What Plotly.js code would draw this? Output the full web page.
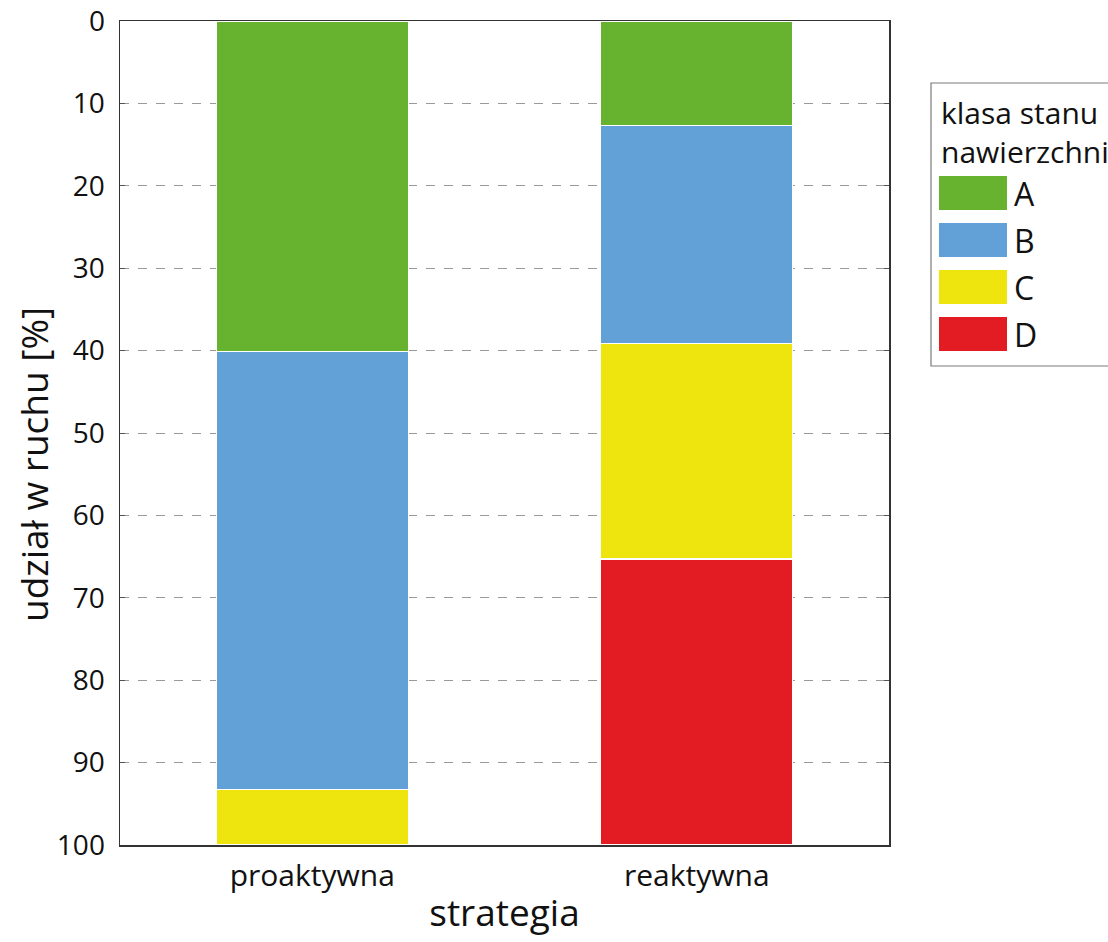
<!DOCTYPE html>
<html>
<head>
<meta charset="utf-8">
<script src="https://cdn.plot.ly/plotly-3.0.1.min.js"></script>
<style>html,body{margin:0;padding:0;background:#fff;overflow:hidden}#chart{width:1108px;height:942px}</style>
</head>
<body>
<div id="chart"></div>
<script>
const categories = ["proaktywna", "reaktywna"];
const classNames = ["A", "B", "C", "D"];
const valuesA = [40.1, 12.7];
const valuesB = [53.2, 26.4];
const valuesC = [6.7, 26.2];
const valuesD = [0, 34.7];
const colors = ["#67b22f", "#62a1d7", "#efe50e", "#e31b23"];
const seriesValues = [valuesA, valuesB, valuesC, valuesD];
const legendTitle = "klasa stanu<br>nawierzchni";
const xTitle = "strategia";
const yTitle = "udział w ruchu [%]";

const FONT = "Open Sans, Noto Sans, sans-serif";

const traces = classNames.map((name, i) => ({
  type: "bar",
  name: name,
  x: categories,
  y: seriesValues[i],
  width: 0.5,
  marker: {color: colors[i], line: {color: "#ffffff", width: 1.2}},
  showlegend: false,
  hoverinfo: "x+y+name"
}));

// Plot area in px
const L = 120, R = 219, T = 21, B = 97, W = 1108, H = 942;
const pw = W - L - R, ph = H - T - B;
const px = x => (x - L) / pw;
const py = y => (H - B - y) / ph;

const shapes = [
  {type: "rect", xref: "paper", yref: "paper", x0: px(931), x1: px(1125), y0: py(366), y1: py(83),
   line: {color: "#7a7a7a", width: 1.2}, fillcolor: "rgba(0,0,0,0)", layer: "above"}
];
const annotations = [
  {xref: "paper", yref: "paper", x: px(939), y: py(90), xanchor: "left", yanchor: "top", align: "left",
   text: legendTitle, showarrow: false, font: {family: FONT, size: 30, color: "#111"}},
  {xref: "paper", yref: "paper", x: px(33), y: py(465), xanchor: "center", yanchor: "middle",
   textangle: -90, text: yTitle, showarrow: false, font: {family: FONT, size: 37, color: "#111"}}
];
classNames.forEach((name, i) => {
  const top = 176 + i * 47;
  shapes.push({type: "rect", xref: "paper", yref: "paper", x0: px(939), x1: px(1007), y0: py(top + 34), y1: py(top),
    line: {width: 0}, fillcolor: colors[i]});
  annotations.push({xref: "paper", yref: "paper", x: px(1012), y: py(top + 17), xanchor: "left", yanchor: "middle",
    text: name, showarrow: false, font: {family: FONT, size: 32, color: "#111"}});
});

const layout = {
  width: W, height: H,
  margin: {l: L, r: R, t: T, b: B, pad: 0},
  paper_bgcolor: "#ffffff", plot_bgcolor: "#ffffff",
  barmode: "stack",
  font: {family: FONT, color: "#111"},
  xaxis: {
    range: [-0.5, 1.5], showgrid: false, zeroline: false,
    showline: true, linecolor: "#333", linewidth: 1.5, mirror: true,
    ticks: "", tickfont: {size: 30, family: FONT, color: "#111"},
    ticklabelstandoff: 3,
    title: {text: xTitle, font: {size: 37, family: FONT, color: "#111"}, standoff: 6}
  },
  yaxis: {
    range: [100, 0], dtick: 10, tick0: 0, zeroline: false,
    showgrid: true, gridcolor: "#9a9a9a", griddash: "dash", gridwidth: 1,
    showline: true, linecolor: "#333", linewidth: 1.5, mirror: "ticks",
    ticks: "inside", ticklen: 5, tickcolor: "#555",
    tickfont: {size: 28, family: FONT, color: "#111"},
    ticklabelstandoff: 8, ticklabeloverflow: "allow",
    title: {text: ""}
  },
  shapes: shapes,
  annotations: annotations
};

Plotly.newPlot("chart", traces, layout, {displayModeBar: false, staticPlot: true});
</script>
</body>
</html>
